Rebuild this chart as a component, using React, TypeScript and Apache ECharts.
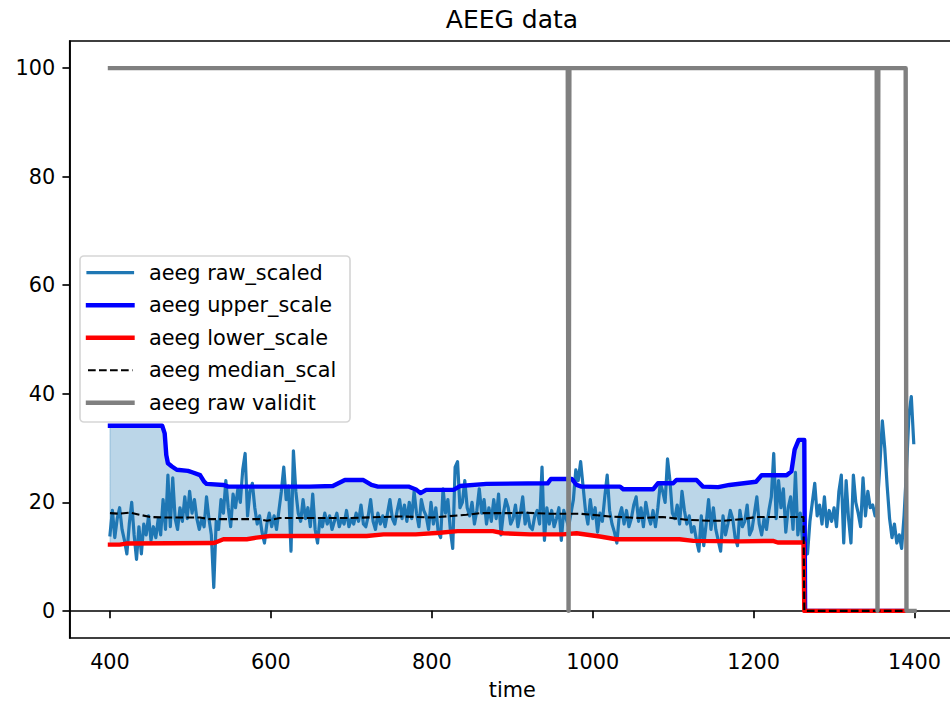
import React, { useEffect, useRef } from "react";
import * as echarts from "echarts";

const xTicks = [400, 600, 800, 1000, 1200, 1400];
const yTicks = [0, 20, 40, 60, 80, 100];

const legendNames = [
  "aeeg raw_scaled",
  "aeeg upper_scale",
  "aeeg lower_scale",
  "aeeg median_scal",
  "aeeg raw validit",
];

const rawScaled: [number, number][] = [
  [400, 14], [403, 18.5], [406, 13.5], [409, 17], [412, 19], [415, 15], [418, 13], [421, 10.5], [424, 16], [427, 20],
  [430, 14], [433, 9.5], [436, 15.5], [439, 10.5], [442, 16], [445, 14], [448, 17.5], [451, 13], [454, 15.5], [457, 13.5],
  [460, 17], [463, 14], [466, 20.5], [469, 15],
  [472, 25], [475, 15.5], [478, 24.5], [481, 17], [484, 15], [487, 19], [490, 16.5], [493, 21], [496, 17], [499, 22],
  [502, 18], [505, 20.5], [508, 17], [511, 15],
  [514, 17], [517, 15.5], [520, 21], [523, 17], [526, 14], [529, 4.3], [532, 16.5], [535, 15], [538, 20.5], [541, 18],
  [544, 24], [547, 19], [550, 15.5], [553, 21.5], [556, 19], [559, 22.5], [562, 20], [565, 26], [568, 29], [571, 17.5],
  [574, 22], [577, 23.5], [580, 19], [583, 16],
  [586, 17.5], [589, 14.5], [592, 12.5], [595, 16], [598, 18], [601, 15.5], [604, 17.5], [607, 15], [610, 18.5], [613, 22],
  [616, 26.5], [619, 20.5], [622, 23], [625, 11], [628, 29.5], [631, 22], [634, 18], [637, 16.5], [640, 20.5], [643, 17],
  [646, 19], [649, 15.5],
  [652, 21.5], [655, 15], [658, 12.5], [661, 17], [664, 15.5], [667, 18], [670, 16], [673, 17.5], [676, 15], [679, 16.5],
  [682, 18], [685, 15.5], [688, 17], [691, 16], [694, 18.5], [697, 15.5], [700, 17], [703, 16], [706, 18], [709, 16.5],
  [712, 19.5], [715, 16], [718, 15.5], [721, 17.5], [724, 20.5], [727, 16.5], [730, 15], [733, 18], [736, 16], [739, 17.5],
  [742, 15.5], [745, 18], [748, 20.5], [751, 17], [754, 16], [757, 18.5], [760, 20.5], [763, 17], [766, 19.5], [769, 16.5],
  [772, 20], [775, 17], [778, 22], [781, 18], [784, 15.5], [787, 20.5], [790, 18.5], [793, 17.5], [796, 15], [799, 20],
  [802, 16], [805, 19], [808, 14.5], [811, 13.5], [814, 22.5], [817, 18], [820, 20.5], [823, 15], [826, 11.5], [829, 26.5],
  [832, 27.5], [835, 19], [838, 20], [841, 24], [844, 19], [847, 17.5], [850, 20], [853, 16], [856, 18.5], [859, 22.5],
  [862, 18], [865, 20.5], [868, 16], [871, 19], [874, 16.5], [877, 20.5], [880, 17], [883, 21.5], [886, 14], [889, 18],
  [892, 20.5], [895, 19], [898, 16],
  [901, 17], [904, 19.5], [907, 15.5], [910, 18], [913, 21], [916, 16], [919, 18], [922, 15.5], [925, 15], [928, 17.5],
  [931, 18.5], [934, 16], [937, 26.5], [940, 13], [943, 19], [946, 16], [949, 18.5], [952, 15.5], [955, 17], [958, 19],
  [961, 13], [964, 18.5], [967, 17], [970, 15.5], [973, 18], [976, 20.5], [979, 26], [982, 24], [985, 27.5], [988, 23],
  [991, 18.5], [994, 16], [997, 20.5], [1000, 17], [1003, 19], [1006, 14.5], [1009, 18], [1012, 16.5], [1015, 21], [1018, 25],
  [1021, 18.5], [1024, 16], [1027, 14.5], [1030, 12.5], [1033, 17.5], [1036, 19], [1039, 16], [1042, 18.5], [1045, 15.5], [1048, 17],
  [1051, 19.5], [1054, 21], [1057, 16.5], [1060, 19], [1063, 15.5], [1066, 20], [1069, 17.5], [1072, 16], [1075, 18.5], [1078, 15.5],
  [1081, 19], [1084, 23.5], [1087, 22], [1090, 20], [1093, 28], [1096, 24], [1099, 18], [1102, 17], [1105, 19.5], [1108, 16],
  [1111, 22], [1114, 18.5], [1117, 16], [1120, 17.5], [1123, 14.5], [1126, 15.5], [1129, 13], [1132, 11], [1135, 17.5], [1138, 12],
  [1141, 16], [1144, 20.5], [1147, 15],
  [1150, 19], [1153, 15], [1156, 13], [1159, 11], [1162, 17.5], [1165, 14], [1168, 16], [1171, 18.5], [1174, 17], [1177, 13.5],
  [1180, 12], [1183, 18.5], [1186, 15.5], [1189, 16.5], [1192, 19.5], [1195, 14], [1198, 15], [1201, 18], [1204, 21], [1207, 16],
  [1210, 14], [1213, 17], [1216, 15], [1219, 18.5], [1222, 21], [1225, 29], [1228, 17], [1231, 24], [1234, 19], [1237, 22.5],
  [1240, 14.5], [1243, 19], [1246, 21], [1249, 15], [1252, 25.5], [1255, 14], [1258, 18], [1261, 12.5], [1264, 11.5], [1267, 10.5],
  [1270, 16.5], [1273, 20], [1276, 23.5], [1279, 17.5], [1282, 19.5], [1285, 16], [1288, 21], [1291, 15.5], [1294, 18.5], [1297, 16.5],
  [1300, 19], [1303, 15.5], [1306, 22], [1309, 25], [1312, 12.5], [1315, 24], [1318, 17], [1321, 12.5], [1324, 25], [1327, 20],
  [1330, 18], [1333, 15.5], [1336, 24.5], [1339, 17.5], [1342, 22], [1345, 19], [1348, 19.5], [1351, 17.5], [1354, 20], [1357, 27],
  [1360, 35], [1363, 30], [1366, 23], [1369, 17], [1372, 13.5], [1375, 16], [1378, 12.5], [1381, 14], [1384, 11.5], [1387, 17.5],
  [1390, 26], [1393, 36], [1396, 39.5], [1399, 31],
];

const upperScale: [number, number][] = [
  [400, 34.1], [465, 34.1], [468, 32.7], [470, 28.7], [472, 27.2], [477, 26.6], [483, 26.0], [497, 25.8], [503, 25.5],
  [512, 25.0], [517, 23.8], [520, 23.4], [541, 23.2], [547, 22.9], [648, 22.9], [677, 23.0], [692, 24.1], [715, 24.1],
  [725, 23.2], [733, 22.9], [771, 22.9], [781, 22.3], [786, 21.7], [793, 22.3], [827, 22.3], [835, 23.0], [868, 23.4],
  [944, 23.5], [948, 24.3], [974, 24.3], [980, 23.2], [986, 22.9], [1034, 22.9], [1038, 22.4], [1075, 22.4], [1081, 23.5],
  [1100, 23.5], [1104, 24.1], [1129, 24.1], [1137, 22.9], [1156, 22.8], [1170, 23.2], [1203, 23.8], [1210, 25.0],
  [1241, 25.0], [1247, 25.7], [1251, 29.7], [1256, 31.5], [1263, 31.5], [1264, 0], [1388, 0],
];

const lowerScale: [number, number][] = [
  [400, 12.2], [412, 12.2], [420, 12.4], [528, 12.5], [531, 12.6], [541, 13.2], [570, 13.2], [582, 13.5], [599, 13.8],
  [719, 13.8], [740, 14.1], [780, 14.1], [810, 14.4], [832, 14.7], [876, 14.7], [889, 14.3], [922, 14.1], [963, 14.1],
  [980, 14.3], [1009, 13.7], [1029, 13.2], [1108, 13.2], [1125, 12.9], [1183, 12.8], [1224, 12.9], [1230, 12.6],
  [1262, 12.6], [1263, 0], [1388, 0],
];

const medianScale: [number, number][] = [
  [400, 18.0], [412, 17.9], [425, 18.1], [437, 17.7], [450, 17.3], [470, 17.2], [512, 17.2], [524, 16.9], [586, 16.9],
  [595, 16.6], [611, 17.1], [698, 17.1], [760, 17.4], [801, 17.2], [843, 17.7], [860, 18.0], [897, 18.0], [913, 18.1],
  [947, 17.9], [984, 17.9], [1021, 17.4], [1058, 17.1], [1087, 17.3], [1116, 16.8], [1145, 16.6], [1162, 16.6],
  [1187, 16.9], [1203, 17.3], [1262, 17.3], [1263, 0], [1388, 0],
];

const rawValidity: [number, number][] = [
  [400, 100], [969, 100], [970, 0], [971, 100], [1353, 100], [1354, 0], [1355, 100], [1389, 100], [1390, 0], [1400, 0],
];

const FONT = "DejaVu Sans";
const TICK_FS = 20.8;

const seriesStyles = [
  { color: "#1f77b4", width: 3.2 },
  { color: "#0000ff", width: 4.4 },
  { color: "#ff0000", width: 4.4 },
  { color: "#000000", width: 2.1, type: [7.7, 3.3], cap: "butt" },
  { color: "#808080", width: 4.4 },
];

function lineSeries(name: string, data: [number, number][], style: any) {
  return {
    type: "line",
    name,
    data,
    symbol: "none",
    showSymbol: false,
    silent: true,
    clip: true,
    lineStyle: { join: "round", cap: "square", ...style },
    itemStyle: { color: style.color },
    emphasis: { disabled: true },
  };
}

function legendGraphic() {
  const left = 80;
  const top = 256;
  const rowPitch = 32.5;
  const firstRow = 272.7;
  const els: any[] = [
    {
      type: "rect",
      shape: { x: left, y: top, width: 270, height: 166, r: 4 },
      style: { fill: "rgba(255,255,255,0.8)", stroke: "#d6d6d6", lineWidth: 1.67 },
      z: 100,
    },
  ];
  legendNames.forEach((name, i) => {
    const y = firstRow + rowPitch * i;
    const st: any = seriesStyles[i];
    els.push({
      type: "line",
      shape: { x1: 88, y1: y, x2: 132.5, y2: y },
      style: {
        stroke: st.color,
        lineWidth: st.width,
        lineDash: st.type ? st.type : null,
        lineCap: st.type ? "butt" : "square",
      },
      z: 101,
    });
    els.push({
      type: "text",
      x: 149,
      y,
      style: {
        text: name,
        fontSize: TICK_FS,
        fontFamily: FONT,
        fill: "#000",
        align: "left",
        verticalAlign: "middle",
      },
      z: 101,
    });
  });
  return els;
}

export default function App() {
  const ref = useRef<HTMLDivElement>(null);
  useEffect(() => {
    const chart = echarts.init(ref.current!, null, { renderer: "svg", width: 960, height: 704 });
    const option: any = {
      animation: false,
      backgroundColor: "#ffffff",
      grid: {
        left: 69.75,
        right: 5.25,
        top: 41,
        bottom: 66,
        containLabel: false,
        outerBoundsMode: "none",
        show: true,
        borderColor: "#000000",
        borderWidth: 1.67,
        backgroundColor: "transparent",
      },
      graphic: [
        {
          type: "text",
          x: 512,
          y: 19,
          style: {
            text: "AEEG data",
            fontSize: 25,
            fontFamily: FONT,
            fill: "#000",
            align: "center",
            verticalAlign: "middle",
          },
        },
        ...legendGraphic(),
      ],
      xAxis: {
        type: "value",
        min: 350,
        max: 1450,
        name: "time",
        nameLocation: "middle",
        nameGap: 41,
        nameTextStyle: { fontSize: TICK_FS, fontFamily: FONT, color: "#000" },
        axisLine: { show: true, lineStyle: { color: "#000", width: 1.67 } },
        axisTick: { show: true, length: 7.3, lineStyle: { color: "#000", width: 1.67 }, customValues: xTicks },
        axisLabel: {
          fontSize: TICK_FS,
          fontFamily: FONT,
          color: "#000",
          margin: 13,
          customValues: xTicks,
          formatter: (v: number) => String(v),
        },
        splitLine: { show: false },
      },
      yAxis: {
        type: "value",
        min: -5,
        max: 105,
        axisLine: { show: true, lineStyle: { color: "#000", width: 1.67 } },
        axisTick: { show: true, length: 7.3, lineStyle: { color: "#000", width: 1.67 }, customValues: yTicks },
        axisLabel: {
          fontSize: TICK_FS,
          fontFamily: FONT,
          color: "#000",
          margin: 14.6,
          customValues: yTicks,
          formatter: (v: number) => String(v),
        },
        splitLine: { show: false },
      },
      series: [
        lineSeries(legendNames[0], rawScaled, seriesStyles[0]),
        {
          type: "custom",
          name: "band",
          silent: true,
          clip: true,
          data: [[400, 0]],
          renderItem: (_params: any, api: any) => {
            const pts = upperScale
              .map((p) => api.coord(p))
              .concat(lowerScale.slice().reverse().map((p) => api.coord(p)));
            return {
              type: "polygon",
              shape: { points: pts },
              style: { fill: "rgba(31,119,180,0.3)", stroke: "rgba(31,119,180,0.3)", lineWidth: 1 },
            };
          },
        },
        lineSeries(legendNames[1], upperScale, seriesStyles[1]),
        lineSeries(legendNames[2], lowerScale, seriesStyles[2]),
        lineSeries(legendNames[3], medianScale, seriesStyles[3]),
        lineSeries(legendNames[4], rawValidity, seriesStyles[4]),
      ],
    };
    chart.setOption(option);
    return () => chart.dispose();
  }, []);
  return (
    <div
      style={{
        position: "fixed",
        left: 0,
        top: 0,
        width: 950,
        height: 704,
        overflow: "hidden",
        background: "#fff",
      }}
    >
      <div ref={ref} style={{ width: 960, height: 704 }} />
    </div>
  );
}
